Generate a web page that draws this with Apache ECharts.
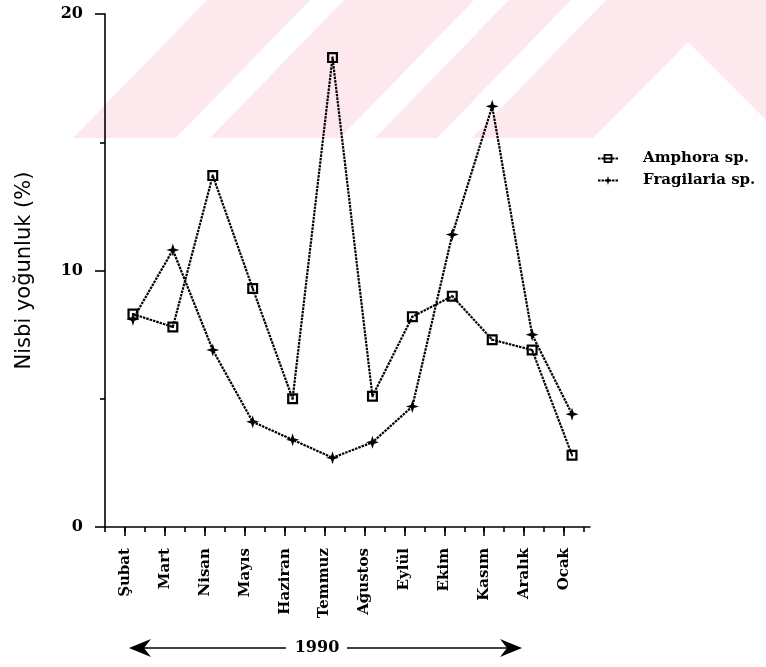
<!DOCTYPE html>
<html>
<head>
<meta charset="utf-8">
<script src="https://cdn.jsdelivr.net/npm/echarts@6/dist/echarts.min.js"></script>
<style>
  html, body { margin: 0; padding: 0; background: #ffffff; }
  #chart { width: 766px; height: 667px; }
</style>
</head>
<body>
<div id="chart"></div>
<script>
// Monthly relative abundance (%) of two diatom taxa, Feb 1990 – Jan 1991
const months = ['Şubat', 'Mart', 'Nisan', 'Mayıs', 'Haziran', 'Temmuz', 'Ağustos', 'Eylül', 'Ekim', 'Kasım', 'Aralık', 'Ocak'];
const amphora = [8.3, 7.8, 13.7, 9.3, 5.0, 18.3, 5.1, 8.2, 9.0, 7.3, 6.9, 2.8];
const fragilaria = [8.1, 10.8, 6.9, 4.1, 3.4, 2.7, 3.3, 4.7, 11.4, 16.4, 7.5, 4.4];
const yTicks = [0, 10, 20];
const yearLabel = '1990';
const seriesNames = ['Amphora sp.', 'Fragilaria sp.'];

const SERIF = '"DejaVu Serif", "Liberation Serif", serif';
const SANS = '"DejaVu Sans", Verdana, sans-serif';
const INK = '#000000';

// x runs in month-index units; the axis starts a little before the first month
const xMin = -0.7;
const xMax = 11.45;
const halfSteps = [];
for (let v = xMin; v <= xMax + 1e-9; v += 0.5) halfSteps.push(+v.toFixed(3));
const labelPos = months.map((_, i) => +(i + xMin + 0.5).toFixed(3));

const squareMark = 'path://M0,0H10V10H0Z M2,2V8H8V2Z M4.1,4.1H5.9V5.9H4.1Z';
const starMark = 'path://M5,0L6.2,3.8L10,5L6.2,6.2L5,10L3.8,6.2L0,5L3.8,3.8Z';

const toPoints = arr => arr.map((v, i) => [i, v]);

// faint striped background band across the top
const PINK = '#fde8ed';
const bandSlope = 134;
const whiteBands = [[176, 210], [340, 375], [437, 472]];
const backdrop = [
  { type: 'polygon', z: -100, silent: true,
    shape: { points: [[73, 138], [766, 138], [766, 0], [73 + bandSlope, 0]] },
    style: { fill: PINK } }
].concat(whiteBands.map(b => ({
  type: 'polygon', z: -99, silent: true,
  shape: { points: [[b[0], 138], [b[1], 138], [b[1] + bandSlope, 0], [b[0] + bandSlope, 0]] },
  style: { fill: '#ffffff' }
}))).concat([{
  type: 'polygon', z: -99, silent: true,
  shape: { points: [[593, 138], [688, 42], [766, 120], [766, 138]] },
  style: { fill: '#ffffff' }
}]);

// year span arrows under the month labels
const arrowY = 648;
const arrows = [
  { type: 'line', shape: { x1: 140, y1: arrowY, x2: 286, y2: arrowY }, style: { stroke: INK, lineWidth: 1.6 } },
  { type: 'polygon', shape: { points: [[129, arrowY], [151, arrowY - 9], [144, arrowY], [151, arrowY + 9]] }, style: { fill: INK } },
  { type: 'line', shape: { x1: 347, y1: arrowY, x2: 512, y2: arrowY }, style: { stroke: INK, lineWidth: 1.6 } },
  { type: 'polygon', shape: { points: [[522, arrowY], [500, arrowY - 9], [507, arrowY], [500, arrowY + 9]] }, style: { fill: INK } },
  { type: 'text', x: 317, y: arrowY, style: { text: yearLabel, font: 'bold 16px ' + SERIF, fill: INK, align: 'center', verticalAlign: 'middle' } }
];

const lineStyle = { color: INK, width: 2.2, type: [2.5, 1] };

const option = {
  backgroundColor: '#ffffff',
  animation: false,
  grid: { left: 105, top: 14, right: 176, bottom: 140, containLabel: false },
  legend: {
    orient: 'vertical',
    left: 592,
    top: 146,
    itemWidth: 20,
    itemHeight: 11,
    itemGap: 7,
    data: seriesNames,
    formatter: name => '{t|' + name + '}',
    textStyle: {
      color: INK,
      rich: { t: { fontFamily: SERIF, fontWeight: 'bold', fontSize: 15, color: INK, padding: [0, 0, 0, 20] } }
    }
  },
  xAxis: [
    {
      type: 'value', min: xMin, max: xMax, position: 'bottom',
      axisLine: { show: true, onZero: false, lineStyle: { color: INK, width: 1.6 } },
      axisTick: { show: true, customValues: halfSteps, length: 5, lineStyle: { color: INK, width: 1.6 } },
      axisLabel: { show: false },
      splitLine: { show: false }
    },
    {
      type: 'value', min: xMin, max: xMax, position: 'bottom',
      axisLine: { show: false, onZero: false },
      axisTick: { show: true, customValues: labelPos, length: 9, lineStyle: { color: INK, width: 1.6 } },
      axisLabel: {
        show: true, customValues: labelPos, rotate: 90, margin: 21,
        formatter: v => months[Math.round(v - xMin - 0.5)] || '',
        fontFamily: SERIF, fontWeight: 'bold', fontSize: 15, color: INK
      },
      splitLine: { show: false }
    }
  ],
  yAxis: {
    type: 'value', min: yTicks[0], max: yTicks[yTicks.length - 1], interval: yTicks[1] - yTicks[0],
    position: 'left',
    name: 'Nisbi yoğunluk (%)', nameLocation: 'middle', nameGap: 70, nameRotate: 90,
    nameTextStyle: { fontFamily: SANS, fontSize: 21, color: INK },
    axisLine: { show: true, onZero: false, lineStyle: { color: INK, width: 1.6 } },
    axisTick: { show: true, length: 10, lineStyle: { color: INK, width: 1.6 } },
    minorTick: { show: true, splitNumber: 2, length: 5, lineStyle: { color: INK, width: 1.6 } },
    axisLabel: { margin: 22, fontFamily: SERIF, fontWeight: 'bold', fontSize: 16, color: INK },
    splitLine: { show: false }
  },
  series: [
    {
      name: seriesNames[0], type: 'line', xAxisIndex: 0, data: toPoints(amphora),
      symbol: squareMark, symbolSize: 11, itemStyle: { color: INK },
      lineStyle: lineStyle, z: 3
    },
    {
      name: seriesNames[1], type: 'line', xAxisIndex: 0, data: toPoints(fragilaria),
      symbol: starMark, symbolSize: 13, itemStyle: { color: INK },
      lineStyle: lineStyle, z: 2
    }
  ],
  graphic: { elements: backdrop.concat(arrows) }
};

const chart = echarts.init(document.getElementById('chart'));
chart.setOption(option);
</script>
</body>
</html>
